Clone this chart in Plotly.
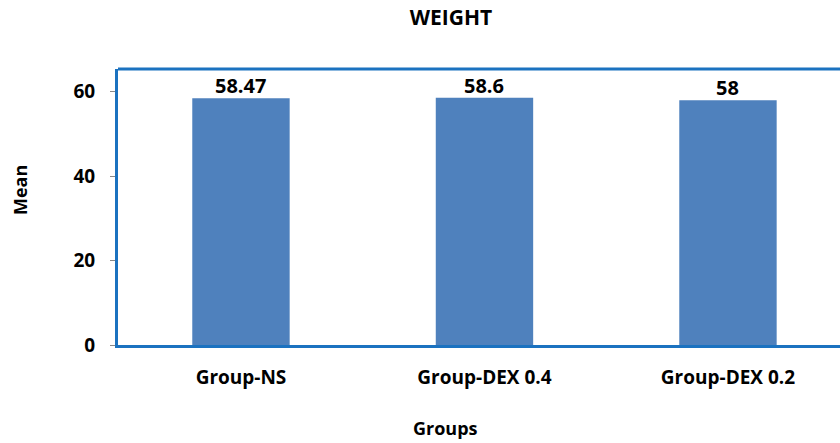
import plotly.graph_objects as go

categories = ["Group-NS", "Group-DEX 0.4", "Group-DEX 0.2"]
means = [58.47, 58.6, 58]
labels = ["58.47", "58.6", "58"]
y_ticks = [0, 20, 40, 60]

W, H = 840, 443
L, R, T, B = 118, 0, 69, 98
pw = W - L - R
ph = H - T - B

def px(x):
    return (x - L) / pw

def py(y):
    return (H - B - y) / ph

FONT = "Open Sans"
BORDER = "#1b72c0"

fig = go.Figure()
fig.add_trace(go.Bar(
    x=[0, 1, 2], y=means, width=0.4,
    marker=dict(color="#4f81bd", line=dict(width=0)),
    hoverinfo="skip",
))

annotations = [
    dict(text="<b>Mean</b>", x=px(20), y=py(190), xref="paper", yref="paper",
         xanchor="center", yanchor="middle",
         showarrow=False, textangle=-90, font=dict(family=FONT, size=18, color="black")),
    dict(text="<b>Groups</b>", x=px(445), y=py(428), xref="paper", yref="paper",
         xanchor="center", yanchor="middle",
         showarrow=False, font=dict(family=FONT, size=18, color="black")),
]
for i, (v, lab) in enumerate(zip(means, labels)):
    annotations.append(dict(text="<b>" + lab + "</b>", x=i, y=v, xref="x", yref="y",
                            xanchor="center", yanchor="bottom", yshift=-3,
                            showarrow=False, font=dict(family=FONT, size=20, color="black")))

fig.update_layout(
    width=W, height=H,
    margin=dict(l=L, r=R, t=T, b=B, pad=0),
    paper_bgcolor="white", plot_bgcolor="white",
    showlegend=False,
    font=dict(family=FONT),
    title=dict(text="<b>WEIGHT</b>", x=451 / W, xanchor="center", xref="container",
               y=1 - 18 / H, yanchor="middle", yref="container",
               font=dict(family=FONT, size=21, color="black")),
    xaxis=dict(range=[-0.505, (W - R - L) / 243.5 - 0.505], tickvals=[0, 1, 2], ticktext=categories,
               showgrid=False, zeroline=False, showline=True, linewidth=3, linecolor=BORDER,
               ticks="", ticklabelstandoff=13,
               tickfont=dict(family=FONT, size=19, color="black", weight="bold")),
    yaxis=dict(range=[0, 65.4], tickvals=y_ticks, showgrid=False, zeroline=False,
               showline=True, linewidth=3, linecolor=BORDER,
               ticks="outside", ticklen=5, tickcolor="#888888", tickwidth=1,
               ticklabelstandoff=11,
               tickfont=dict(family=FONT, size=19, color="black", weight="bold")),
    shapes=[dict(type="line", xref="paper", yref="paper", x0=0, x1=1.05, y0=1, y1=1,
                 line=dict(color=BORDER, width=3))],
    annotations=annotations,
)

fig.write_html("out.html", config={"displayModeBar": False},
               post_script="document.body.style.margin='0';document.body.style.overflow='hidden';")
